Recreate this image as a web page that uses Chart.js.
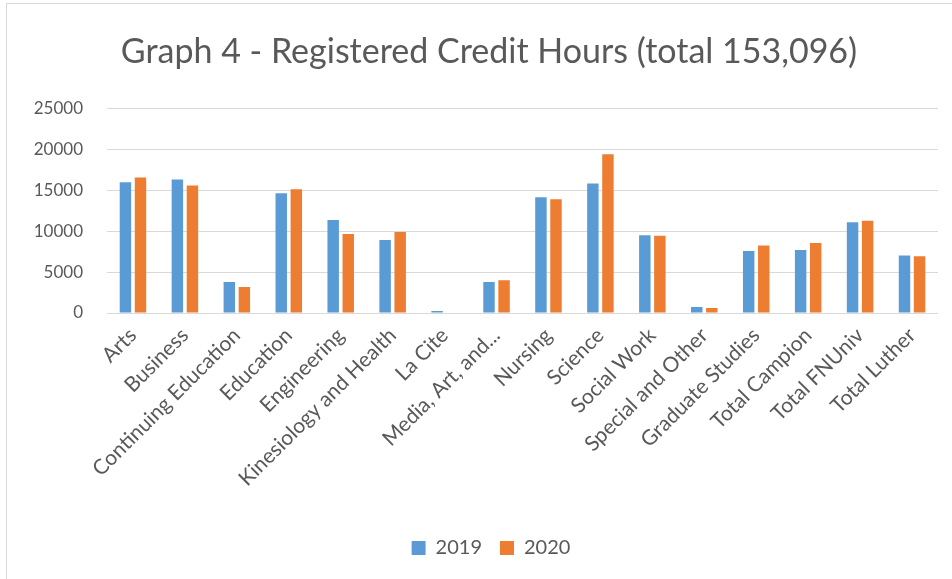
<!DOCTYPE html>
<html>
<head>
<meta charset="utf-8">
<script src="https://cdn.jsdelivr.net/npm/chart.js@4/dist/chart.umd.min.js"></script>
<style>
  html, body { margin: 0; padding: 0; background: #fff; }
  #wrap { position: relative; width: 952px; height: 579px; }
  #frame { position: absolute; left: 6px; top: 3px; right: -2px; bottom: -2px; border: 1px solid #d9d9d9; pointer-events: none; }
  canvas { display: block; }
</style>
</head>
<body>
<div id="wrap">
  <canvas id="c" width="952" height="579"></canvas>
  <div id="frame"></div>
</div>
<script>
const titleText = "Graph 4 - Registered Credit Hours (total 153,096)";
const categories = [
  "Arts", "Business", "Continuing Education", "Education", "Engineering",
  "Kinesiology and Health", "La Cite", "Media, Art, and...", "Nursing", "Science",
  "Social Work", "Special and Other", "Graduate Studies", "Total Campion",
  "Total FNUniv", "Total Luther"
];
const values2019 = [16000, 16350, 3780, 14670, 11380, 8940, 250, 3780, 14180, 15850, 9510, 730, 7600, 7720, 11100, 7030];
const values2020 = [16600, 15600, 3170, 15160, 9670, 9920, 60, 4020, 13940, 19430, 9470, 610, 8250, 8570, 11300, 6950];
const yTicks = [0, 5000, 10000, 15000, 20000, 25000];

const FONT = "Lato, 'Open Sans', sans-serif";
const GREY = "#595959";

// Centre the title and legend under the plot area (as in the reference)
const centreShift = {
  id: "centreShift",
  afterLayout(chart) {
    const l = chart.legend;
    if (l) { l.left += 22; l.right += 22; }
    const t = chart.titleBlock;
    if (t) { t.left += 20; t.right += 20; }
  }
};

new Chart(document.getElementById("c"), {
  type: "bar",
  data: {
    labels: categories,
    datasets: [
      { label: "2019", data: values2019, backgroundColor: "#5B9BD5", categoryPercentage: 0.58, barPercentage: 0.76 },
      { label: "2020", data: values2020, backgroundColor: "#ED7D31", categoryPercentage: 0.58, barPercentage: 0.76 }
    ]
  },
  plugins: [centreShift],
  options: {
    responsive: false,
    animation: false,
    devicePixelRatio: 1,
    layout: { padding: { left: 0, right: 14, top: 0, bottom: 11 } },
    plugins: {
      title: {
        display: true,
        text: titleText,
        color: GREY,
        font: { family: FONT, size: 34, weight: "normal" },
        padding: { top: 32, bottom: 36 }
      },
      legend: {
        position: "bottom",
        labels: {
          color: GREY,
          font: { family: FONT, size: 20 },
          boxWidth: 14,
          boxHeight: 14,
          padding: 18
        }
      },
      tooltip: { enabled: false }
    },
    scales: {
      x: {
        grid: { display: false },
        border: { display: false },
        ticks: {
          color: GREY,
          font: { family: FONT, size: 21 },
          minRotation: 45,
          maxRotation: 45,
          autoSkip: false,
          padding: 2
        },
        afterFit(scale) { scale.height = 207; }
      },
      y: {
        min: 0,
        max: 25000,
        afterBuildTicks(scale) { scale.ticks = yTicks.map(v => ({ value: v })); },
        grid: { color: "#d9d9d9", lineWidth: 1, drawTicks: false },
        border: { display: false },
        ticks: {
          color: GREY,
          font: { family: FONT, size: 17 },
          padding: 24,
          callback: (v) => String(v)
        },
        afterFit(scale) { scale.width = 107; }
      }
    }
  }
});
</script>
</body>
</html>
